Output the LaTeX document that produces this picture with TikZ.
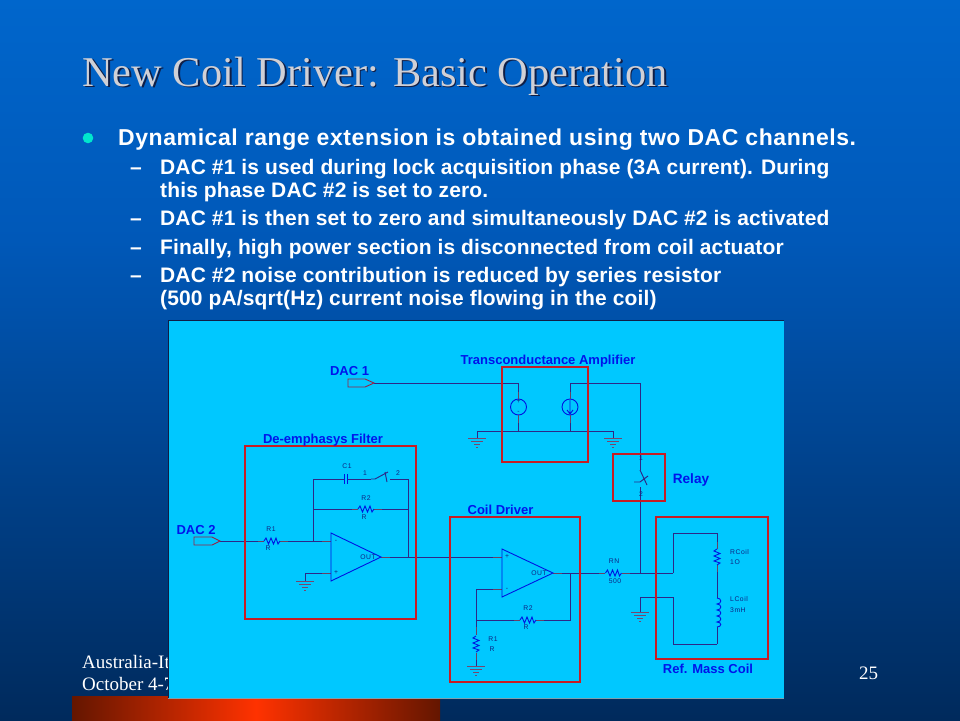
\documentclass[tikz,border=0pt]{standalone}
\usepackage{fontspec}
\setmainfont{Liberation Serif}
\setsansfont{Liberation Sans}
\newfontfamily\bigsans[LetterSpace=2.5]{Liberation Sans}
\newfontfamily\subsans[LetterSpace=0.7]{Liberation Sans}
\newfontfamily\tinysans[LetterSpace=8]{Liberation Sans}
\definecolor{bgtop}{RGB}{0,102,204}
\definecolor{bgmid}{RGB}{0,88,184}
\definecolor{bgbot}{RGB}{0,42,92}
\definecolor{panel}{RGB}{0,200,255}
\definecolor{boxred}{RGB}{200,28,36}
\definecolor{wire}{RGB}{45,40,135}
\definecolor{part}{RGB}{0,20,225}
\definecolor{gndc}{RGB}{120,70,110}
\definecolor{stubc}{RGB}{105,65,100}
\definecolor{lab}{RGB}{0,20,235}
\definecolor{smalllab}{RGB}{15,35,130}
\definecolor{titlec}{RGB}{208,208,214}
\definecolor{shadowc}{RGB}{15,30,70}
\definecolor{bulletc}{RGB}{0,230,205}
\definecolor{barout}{RGB}{100,22,0}
\definecolor{barmid}{RGB}{255,50,0}
\tikzset{
  x=1pt,y=-1pt,
  wireline/.style={draw=wire,line width=0.95pt},
  partline/.style={draw=part,line width=0.9pt},
  stubline/.style={draw=stubc,line width=1pt},
  redbox/.style={draw=boxred,line width=2.8pt},
  srcnode/.style={circle,draw=part,line width=0.9pt,minimum size=16pt,inner sep=0pt},
  bigtext/.style={anchor=base west,inner sep=0pt,font=\bigsans\bfseries\fontsize{23}{25}\selectfont,text=white},
  subtext/.style={anchor=base west,inner sep=0pt,font=\subsans\bfseries\fontsize{21}{23}\selectfont,text=white},
  blocklabel/.style={anchor=base,inner sep=0pt,font=\sffamily\bfseries\fontsize{13}{15}\selectfont,text=lab},
  tinylabel/.style={anchor=center,inner sep=0pt,font=\tinysans\fontsize{6.8}{7}\selectfont,text=smalllab},
  titletext/.style={anchor=base west,inner sep=0pt,font=\fontsize{42.4}{46}\selectfont},
  footer/.style={anchor=base west,inner sep=0pt,font=\fontsize{19}{21}\selectfont,text=white},
  pics/gnd/.style={code={
    \draw[draw=gndc,line width=1pt] (-9,0)--(9,0) (-6,3)--(6,3) (-3,6)--(3,6) (-1,9)--(1,9);
  }},
  pics/hres/.style={code={
    \draw[partline] (-8,0)--(-6,-3)--(-3.5,3)--(-1,-3)--(1.5,3)--(4,-3)--(6,3)--(8,0);
  }},
  pics/vres/.style={code={
    \draw[partline] (0,-8)--(-3,-6)--(3,-3.5)--(-3,-1)--(3,1.5)--(-3,4)--(3,6)--(0,8);
  }},
}
\begin{document}
\begin{tikzpicture}
\useasboundingbox (0,0) rectangle (960,720);
\shade[top color=bgtop,bottom color=bgmid] (0,0) rectangle (960,240);
\shade[top color=bgmid,bottom color=bgbot] (0,240) rectangle (960,720);
\shade[left color=barout,right color=barout,middle color=barmid] (72,696) rectangle (440,720);

% title
\node[titletext,text=shadowc] (titleshadow) at (83.8,87.8) {New Coil Driver: Basic Operation};
\node[titletext,text=titlec] (title) at (82,86) {New Coil Driver: Basic Operation};

% bullets
\fill[bulletc] (88,138) circle (5.3);
\node[bigtext] (b1) at (118,145) {Dynamical range extension is obtained using two DAC channels.};
\node[subtext] (d1) at (130,174) {–};
\node[subtext] (s1a) at (160,174) {DAC \#1 is used during lock acquisition phase (3A current). During};
\node[subtext] (s1b) at (160,197) {this phase DAC \#2 is set to zero.};
\node[subtext] (d2) at (130,225) {–};
\node[subtext] (s2) at (160,225) {DAC \#1 is then set to zero and simultaneously DAC \#2 is activated};
\node[subtext] (d3) at (130,254) {–};
\node[subtext] (s3) at (160,254) {Finally, high power section is disconnected from coil actuator};
\node[subtext] (d4) at (130,282) {–};
\node[subtext] (s4a) at (160,282) {DAC \#2 noise contribution is reduced by series resistor};
\node[subtext] (s4b) at (160,305) {(500 pA/sqrt(Hz) current noise flowing in the coil)};

% footer
\node[footer] (f1) at (82,668) {Australia-It};
\node[footer] (f2) at (82,690) {October 4-7};
\node[footer] (pg) at (859,679) {25};

% panel
\fill[panel] (168,320) rectangle (784,698);
\draw[draw=shadowc,line width=1pt] (168,698)--(168,320)--(784,320);
\draw[draw=gray!70!cyan,line width=1pt] (168,698.5)--(784,698.5);

% ----- coordinates
\coordinate (dac1tip) at (374,383);
\node[srcnode] (vs) at (518.5,407) {};
\node[srcnode] (cs) at (570,407) {};
\coordinate (gndL) at (477,431);
\coordinate (gndR) at (613,431);
\coordinate (relayTop) at (640,383);
\coordinate (relayA) at (640,470);
\coordinate (relayB) at (640,487);
\coordinate (junc) at (640,573);
\coordinate (dac2tip) at (220,541);
\coordinate (r1a) at (264,541);
\coordinate (r1b) at (280,541);
\coordinate (nodeA) at (313,541);
\coordinate (oa1m) at (331,541);
\coordinate (oa1p) at (331,573);
\coordinate (oa1out) at (381,557);
\coordinate (fbR) at (408,557);
\coordinate (g1) at (305,581);
\coordinate (oa2p) at (502,557);
\coordinate (oa2m) at (502,589);
\coordinate (oa2out) at (553,573);
\coordinate (fb2) at (570,573);
\coordinate (n2) at (476,620);
\coordinate (g2) at (476,666);
\coordinate (coilL) at (673,573);
\coordinate (coilTop) at (717,533);
\coordinate (coilBot) at (717,644);
\coordinate (coilRet) at (673,597);
\coordinate (g3) at (640,612);

% wires
\draw[wireline] (dac1tip) -| (vs.north);
\draw[wireline] (vs.south) -- (vs.south |- gndL);
\draw[wireline] (gndL) -- (gndR);
\draw[wireline] (gndL) -- ++(0,7);
\draw[wireline] (gndR) -- ++(0,7);
\draw[wireline] (cs.south) -- (cs.south |- gndL);
\draw[wireline] (cs.north) -- (cs.north |- relayTop) -- (relayTop) -- (relayA);
\draw[wireline] (relayB) -- (junc);
\draw[wireline] (dac2tip) -- (r1a);
\draw[wireline] (r1b) -- (oa1m);
\draw[wireline] (nodeA) -- (313,479) -- (344,479);
\draw[wireline] (347,479) -- (371,479);
\draw[wireline] (390,479) -- (408,479) -- (fbR);
\draw[wireline] (313,509) -- (358,509);
\draw[wireline] (374,509) -- (408,509);
\draw[wireline] (oa1out) -- (oa2p);
\draw[wireline] (oa1p) -- (g1 |- oa1p) -- (g1);
\draw[wireline] (oa2out) -- (605,573);
\draw[wireline] (fb2) -- (570,620) -- (536,620);
\draw[wireline] (520,620) -- (n2);
\draw[wireline] (oa2m) -- (476,589) -- (n2);
\draw[wireline] (n2) -- (476,635);
\draw[wireline] (476,653) -- (g2);
\draw[wireline] (622,573) -- (coilL);
\draw[wireline] (coilL) |- (coilTop);
\draw[wireline] (coilTop) -- (717,549);
\draw[wireline] (717,565) -- (717,598);
\draw[wireline] (717,627) -- (coilBot);
\draw[wireline] (coilBot) -| (coilRet);
\draw[wireline] (coilRet) -- (640,597) -- (g3);

% pin stubs
\draw[stubline] (258,541)--(264,541) (280,541)--(288,541) (322,541)--(331,541) (322,573)--(331,573)
  (381,557)--(390,557) (352,509)--(358,509) (374,509)--(382,509)
  (493,557)--(502,557) (493,589)--(502,589) (553,573)--(562,573)
  (599,573)--(605,573) (622,573)--(630,573) (514,620)--(520,620) (536,620)--(544,620)
  (476,627)--(476,635) (476,653)--(476,660) (717,542)--(717,549) (717,565)--(717,572)
  (518.5,415)--(518.5,423) (570,415)--(570,423) (570,392)--(570,399) (518.5,392)--(518.5,399);

% ports
\draw[draw=boxred!70!wire,line width=0.9pt] (348,379)--(365,379)--(dac1tip)--(365,387)--(348,387)--cycle;
\draw[draw=boxred!70!wire,line width=0.9pt] (194,537)--(212,537)--(dac2tip)--(212,545)--(194,545)--cycle;

% sources
\draw[partline] (570,400)--(570,414) (567,410)--(570,414)--(573,410);
\node[tinylabel] (vsp) at (518.5,402) {+};
\node[tinylabel] (vsm) at (518.5,412) {-};

% grounds
\pic at (477,438) {gnd};
\pic at (613,438) {gnd};
\pic at (305,581) {gnd};
\pic at (476,666) {gnd};
\pic at (640,612) {gnd};

% op amps
\draw[partline] (331,533)--(381,557)--(331,581)--cycle;
\draw[partline] (502,549)--(553,573)--(502,597)--cycle;
\node[tinylabel] (m1) at (336,541) {-};
\node[tinylabel] (p1) at (336,573) {+};
\node[tinylabel] (o1) at (368,557) {OUT};
\node[tinylabel] (p2) at (507,557) {+};
\node[tinylabel] (m2) at (507,589) {-};
\node[tinylabel] (o2) at (539,573) {OUT};

% capacitor and switches
\draw[partline] (344,474)--(344,484) (347,474)--(347,484);
\draw[wireline] (371,479)--(375,479)--(388,472) (385,472)--(387,482);
\draw[wireline] (640,470)--(647,485) (634,482)--(640,482)--(648,476);

% resistors and coil
\pic at (272,541) {hres};
\pic at (366,509) {hres};
\pic at (528,620) {hres};
\pic at (613.5,573) {hres};
\pic at (476,644) {vres};
\pic at (717,557) {vres};
\draw[partline] (717,598) .. controls (722,598) and (722,604) .. (717,604)
  .. controls (722,604) and (722,610) .. (717,610)
  .. controls (722,610) and (722,616) .. (717,616)
  .. controls (722,616) and (722,622) .. (717,622)
  .. controls (722,622) and (722,627) .. (717,627);

% red boxes
\draw[redbox] (502,367) rectangle (588,462);
\draw[redbox] (613,454) rectangle (665,501);
\draw[redbox] (245,446) rectangle (416,619);
\draw[redbox] (450,517) rectangle (580,682);
\draw[redbox] (656,517) rectangle (768,659);

% labels
\node[blocklabel] (ldac1) at (349.5,375) {DAC 1};
\node[blocklabel] (ldac2) at (196,534) {DAC 2};
\node[blocklabel] (lta) at (548,364.5) {Transconductance Amplifier};
\node[blocklabel] (lde) at (323,443.5) {De-emphasys Filter};
\node[blocklabel] (lcd) at (500.5,514.5) {Coil Driver};
\node[blocklabel,font=\sffamily\bfseries\fontsize{13.6}{15}\selectfont] (lrel) at (691,483) {Relay};
\node[blocklabel] (lrm) at (708,673) {Ref. Mass Coil};

\node[tinylabel] (tc1) at (347,466) {C1};
\node[tinylabel] (t1) at (365,473) {1};
\node[tinylabel] (t2) at (398,473) {2};
\node[tinylabel] (tr2a) at (366,498) {R2};
\node[tinylabel] (tr2b) at (364,517) {R};
\node[tinylabel] (tr1a) at (271,529) {R1};
\node[tinylabel] (tr1b) at (268,548) {R};
\node[tinylabel] (tr3a) at (528,608) {R2};
\node[tinylabel] (tr3b) at (526,627) {R};
\node[tinylabel] (tr4a) at (493,639) {R1};
\node[tinylabel] (tr4b) at (492,649) {R};
\node[tinylabel] (trn) at (614,561) {RN};
\node[tinylabel] (t500) at (615,581) {500};
\node[tinylabel,anchor=west] (trc) at (730,552.5) {RCoil};
\node[tinylabel,anchor=west] (trv) at (730,562) {1O};
\node[tinylabel,anchor=west] (tlc) at (730,599.5) {LCoil};
\node[tinylabel,anchor=west] (tlv) at (730,610) {3mH};
\node[tinylabel] (tk1) at (641,458) {1};
\node[tinylabel] (tk2) at (641,494) {2};
\end{tikzpicture}
\end{document}
